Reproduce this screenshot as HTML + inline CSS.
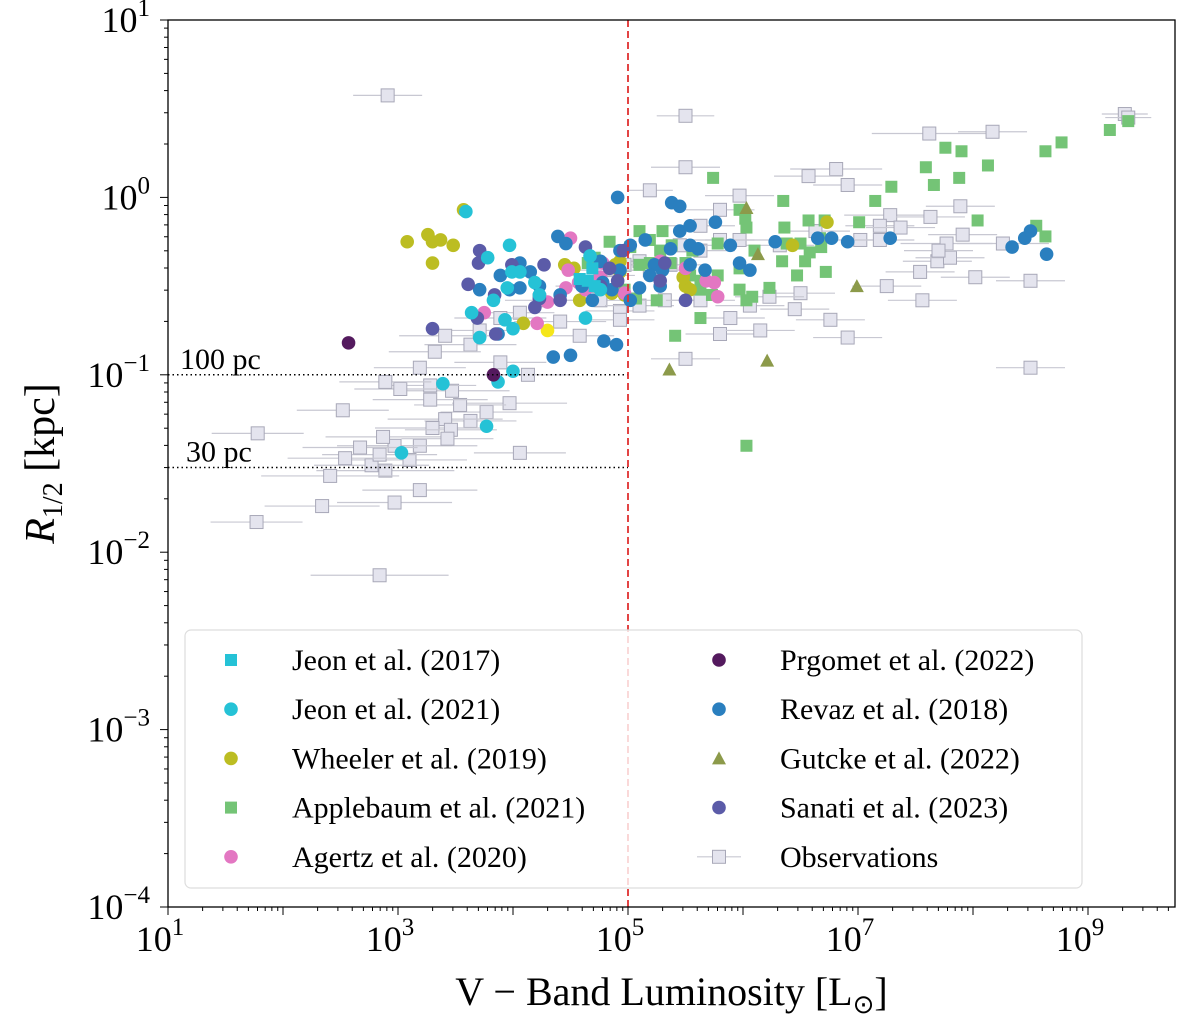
<!DOCTYPE html>
<html><head><meta charset="utf-8"><style>
body{margin:0;background:#fff;}
svg text{font-family:"Liberation Serif",serif;fill:#000;}
</style></head><body>
<svg id="chart" width="1200" height="1029" xmlns="http://www.w3.org/2000/svg"></svg>
<script>
// Data in log10 units: [log10 L_V, log10 R_half(kpc)]
const observations=[[2.91,0.575],[5.50,0.46],[5.50,0.17],[9.32,0.47],[9.35,0.45],[7.62,0.36],[8.17,0.37],[6.81,0.16],[6.57,0.12],[6.91,0.07],[5.97,0.01],[5.19,0.04],[5.80,-0.07],[5.63,-0.16],[7.89,-0.05],[7.28,-0.10],[7.63,-0.11],[7.19,-0.16],[7.02,-0.24],[7.19,-0.24],[7.37,-0.17],[6.63,-0.19],[6.32,-0.27],[5.97,-0.24],[5.80,-0.24],[5.63,-0.30],[5.45,-0.27],[5.37,-0.38],[5.19,-0.41],[5.10,-0.36],[4.97,-0.38],[4.84,-0.41],[4.76,-0.44],[4.67,-0.50],[4.76,-0.58],[4.93,-0.64],[5.10,-0.61],[5.32,-0.58],[5.63,-0.58],[5.89,-0.68],[5.80,-0.77],[6.50,-0.54],[6.45,-0.63],[6.23,-0.56],[6.06,-0.61],[6.15,-0.75],[6.76,-0.69],[6.91,-0.79],[7.25,-0.50],[7.54,-0.42],[7.77,-0.26],[7.69,-0.36],[7.80,-0.34],[7.91,-0.21],[7.70,-0.30],[8.26,-0.26],[8.02,-0.45],[8.50,-0.47],[7.56,-0.58],[8.50,-0.96],[5.50,-0.91],[4.58,-0.78],[4.41,-0.70],[4.23,-0.58],[4.06,-0.65],[3.89,-0.68],[3.71,-0.75],[3.63,-0.83],[3.41,-0.78],[3.32,-0.87],[3.19,-0.96],[3.89,-0.93],[4.13,-1.00],[3.97,-1.16],[3.77,-1.21],[3.63,-1.26],[3.54,-1.17],[3.47,-1.09],[3.28,-1.06],[3.02,-1.08],[2.89,-1.04],[3.28,-1.14],[3.41,-1.25],[3.30,-1.30],[3.19,-1.40],[3.10,-1.48],[2.97,-1.40],[2.87,-1.35],[2.89,-1.54],[2.77,-1.51],[2.84,-1.45],[2.67,-1.41],[2.54,-1.47],[2.41,-1.57],[2.34,-1.74],[2.52,-1.20],[1.78,-1.33],[2.97,-1.72],[3.19,-1.65],[1.77,-1.83],[2.84,-2.13],[3.46,-1.31],[4.06,-1.44],[3.43,-1.36],[4.93,-0.69]];
const obsErr=[0.3,0.25,0.3,0.2,0.2,0.5,0.3,0.4,0.3,0.3,0.3,0.2,0.3,0.3,0.3,0.4,0.3,0.3,0.3,0.3,0.3,0.3,0.3,0.3,0.3,0.3,0.3,0.3,0.3,0.3,0.3,0.3,0.3,0.3,0.3,0.3,0.3,0.3,0.3,0.3,0.3,0.3,0.3,0.3,0.3,0.3,0.3,0.3,0.3,0.3,0.4,0.3,0.3,0.3,0.3,0.4,0.3,0.3,0.3,0.3,0.3,0.3,0.4,0.3,0.3,0.4,0.3,0.4,0.4,0.4,0.4,0.4,0.4,0.5,0.4,0.4,0.4,0.5,0.4,0.4,0.4,0.5,0.5,0.5,0.5,0.5,0.5,0.5,0.6,0.5,0.5,0.5,0.5,0.6,0.5,0.4,0.4,0.5,0.5,0.4,0.6,0.4,0.4,0.4,0.3];
const jeon2017=[[4.58,-0.46],[4.65,-0.47],[4.71,-0.50],[4.69,-0.40]];
const jeon2021=[[3.59,-0.08],[3.78,-0.34],[3.83,-0.58],[3.95,-0.51],[3.99,-0.42],[4.06,-0.42],[4.00,-0.74],[3.97,-0.27],[3.64,-0.65],[3.87,-1.04],[3.39,-1.05],[3.77,-1.29],[3.03,-1.44],[4.00,-0.98],[3.93,-0.69],[4.23,-0.55],[4.19,-0.48],[3.71,-0.79],[4.67,-0.33],[4.76,-0.52],[4.63,-0.68]];
const wheeler=[[3.57,-0.07],[3.08,-0.25],[3.26,-0.21],[3.30,-0.25],[3.37,-0.24],[3.48,-0.27],[3.30,-0.37],[4.09,-0.71],[4.45,-0.38],[5.50,-0.50],[5.48,-0.45],[6.43,-0.27],[6.73,-0.14],[4.53,-0.40],[4.89,-0.38],[4.93,-0.42],[4.58,-0.58],[4.97,-0.55],[4.93,-0.36],[5.54,-0.52],[4.86,-0.54]];
const wheelerBright=[[4.30,-0.75]];
const applebaum=[[9.19,0.38],[9.35,0.43],[8.77,0.31],[8.63,0.26],[8.13,0.18],[7.59,0.17],[7.66,0.07],[7.88,0.11],[7.76,0.28],[7.90,0.26],[7.29,0.06],[7.15,-0.02],[7.01,-0.14],[6.57,-0.13],[5.74,0.11],[5.97,-0.07],[6.35,-0.02],[6.03,-0.17],[6.36,-0.17],[6.02,-0.12],[6.50,-0.26],[6.38,-0.26],[6.71,-0.13],[6.68,-0.28],[6.67,-0.23],[6.58,-0.31],[6.54,-0.36],[6.34,-0.36],[6.10,-0.30],[5.97,-0.40],[5.78,-0.26],[5.78,-0.44],[5.63,-0.47],[5.54,-0.44],[5.38,-0.27],[5.30,-0.19],[5.10,-0.19],[4.84,-0.25],[4.71,-0.34],[4.65,-0.37],[5.37,-0.37],[5.19,-0.37],[5.02,-0.28],[5.50,-0.37],[5.73,-0.55],[5.63,-0.68],[5.63,-0.52],[5.97,-0.52],[6.03,-0.58],[6.08,-0.56],[6.23,-0.51],[6.72,-0.42],[6.47,-0.44],[6.03,-1.40],[5.41,-0.78],[5.25,-0.58],[5.07,-0.57],[4.97,-0.52],[8.04,-0.13],[8.55,-0.16],[8.63,-0.22],[5.28,-0.30],[5.56,-0.30],[5.10,-0.38],[5.19,-0.24]];
const agertz=[[4.50,-0.23],[4.76,-0.45],[4.78,-0.37],[4.48,-0.41],[4.57,-0.48],[4.46,-0.51],[4.30,-0.59],[4.21,-0.71],[3.75,-0.65],[5.75,-0.48],[5.78,-0.56],[5.68,-0.47],[5.50,-0.40],[5.28,-0.36],[4.97,-0.54],[4.63,-0.52]];
const prgomet=[[2.57,-0.82],[3.83,-1.00]];
const revaz=[[4.91,0.00],[5.38,-0.03],[5.45,-0.05],[4.39,-0.22],[4.46,-0.26],[4.06,-0.37],[4.06,-0.51],[4.35,-0.90],[4.50,-0.89],[4.79,-0.81],[4.90,-0.83],[4.69,-0.58],[4.78,-0.48],[4.76,-0.36],[4.93,-0.30],[5.02,-0.27],[5.15,-0.24],[5.23,-0.38],[5.37,-0.29],[5.45,-0.19],[5.54,-0.27],[5.61,-0.29],[5.67,-0.41],[5.76,-0.14],[5.89,-0.27],[5.97,-0.37],[6.06,-0.41],[6.28,-0.25],[6.65,-0.23],[6.77,-0.23],[6.91,-0.25],[7.28,-0.23],[8.34,-0.28],[8.45,-0.23],[8.50,-0.19],[8.64,-0.32],[5.02,-0.58],[5.10,-0.51],[5.19,-0.44],[5.30,-0.41],[5.54,-0.38],[5.28,-0.50],[4.93,-0.41],[4.86,-0.52],[4.60,-0.50],[4.41,-0.55],[4.23,-0.50],[4.15,-0.42],[3.97,-0.52],[3.89,-0.44],[3.71,-0.52],[3.87,-0.77],[5.54,-0.16]];
const gutcke=[[6.03,-0.06],[6.13,-0.32],[6.99,-0.50],[5.36,-0.97],[6.21,-0.92]];
const sanati=[[3.71,-0.30],[3.70,-0.37],[3.61,-0.49],[3.84,-0.55],[3.99,-0.38],[3.85,-0.77],[3.69,-0.68],[3.30,-0.74],[4.63,-0.28],[4.27,-0.38],[4.23,-0.57],[4.41,-0.58],[4.91,-0.47],[4.84,-0.40],[4.96,-0.30],[5.28,-0.47],[5.32,-0.37],[5.50,-0.58],[4.19,-0.62],[4.76,-0.50]];
const xTickExp=[1,3,5,7,9];
const yTickExp=[1,0,-1,-2,-3,-4];

const NS="http://www.w3.org/2000/svg";
const svg=document.getElementById('chart');
const L=168,R=1175,T=20,B=907;
const X0=1,XPX=115,Y0=1,YPX=177.4;
function sx(v){return L+(v-X0)*XPX;}
function sy(v){return T+(Y0-v)*YPX;}
function mk(tag,attrs,parent){const e=document.createElementNS(NS,tag);for(const k in attrs)e.setAttribute(k,attrs[k]);(parent||svg).appendChild(e);return e;}

mk('rect',{x:L,y:T,width:R-L,height:B-T,fill:'#fff'});
const gPlot=mk('g',{'clip-path':'url(#clip)'});
const defs=mk('defs',{});const cp=mk('clipPath',{id:'clip'},defs);mk('rect',{x:L,y:T,width:R-L,height:B-T},cp);

observations.forEach((p,i)=>{
  const e=obsErr[i]||0.3;
  const ln=mk('line',{x1:sx(p[0]-e),x2:sx(p[0]+e),y1:sy(p[1]),y2:sy(p[1]),stroke:'#c8c8d2','stroke-width':1.2},gPlot);
  
  
  const r=mk('rect',{x:sx(p[0])-6.5,y:sy(p[1])-6.5,width:13,height:13,fill:'#e4e4ee',stroke:'#a8a8b8','stroke-width':1},gPlot);
  
  
});
function circles(arr,color,name){arr.forEach(p=>{const c=mk('circle',{cx:sx(p[0]),cy:sy(p[1]),r:6.8,fill:color},gPlot);
  
  });}
function squares(arr,color,name){arr.forEach(p=>{const c=mk('rect',{x:sx(p[0])-6,y:sy(p[1])-6,width:12,height:12,fill:color},gPlot);
  
  });}
function tris(arr,color,name){arr.forEach(p=>{const x=sx(p[0]),y=sy(p[1]);const c=mk('polygon',{points:`${x},${y-7} ${x-7},${y+6} ${x+7},${y+6}`,fill:color},gPlot);
  
  });}
squares(applebaum,'#74c476','applebaum-point');
circles(wheeler,'#bcbd22','wheeler-point');
circles(wheelerBright,'#f5e61a','wheeler-point');
circles(agertz,'#e377c2','agertz-point');
circles(revaz,'#2a7fbf','revaz-point');
circles(sanati,'#5b5ba8','sanati-point');
circles(jeon2021,'#25c2d6','jeon2021-point');
squares(jeon2017,'#25c2d6','jeon2017-point');
circles(prgomet,'#541a5e','prgomet-point');
tris(gutcke,'#8c9a4a','gutcke-point');

let e=mk('line',{x1:L,x2:sx(5),y1:sy(-1),y2:sy(-1),stroke:'#000','stroke-width':1.5,'stroke-dasharray':'1.5,3'});


e=mk('line',{x1:L,x2:sx(5),y1:sy(Math.log10(0.03)),y2:sy(Math.log10(0.03)),stroke:'#000','stroke-width':1.5,'stroke-dasharray':'1.5,3'});


e=mk('text',{x:180,y:sy(-1)-6,'font-size':30});e.textContent='100 pc';


e=mk('text',{x:186,y:sy(Math.log10(0.03))-6,'font-size':30});e.textContent='30 pc';


e=mk('line',{x1:sx(5),x2:sx(5),y1:T,y2:B,stroke:'#e03030','stroke-width':1.8,'stroke-dasharray':'7,4'});



const lg=mk('g',{});


mk('rect',{x:185,y:630,width:897,height:258,rx:6,fill:'rgba(255,255,255,0.8)',stroke:'#ddd','stroke-width':1.2},lg);
const entries=[['Jeon et al. (2017)','sq','#25c2d6'],['Jeon et al. (2021)','c','#25c2d6'],['Wheeler et al. (2019)','c','#bcbd22'],['Applebaum et al. (2021)','sq','#74c476'],['Agertz et al. (2020)','c','#e377c2'],['Prgomet et al. (2022)','c','#541a5e'],['Revaz et al. (2018)','c','#2a7fbf'],['Gutcke et al. (2022)','t','#8c9a4a'],['Sanati et al. (2023)','c','#5b5ba8'],['Observations','o','#e4e4ee']];
entries.forEach((en,i)=>{
  const col=i<5?0:1,row=i%5;const mx=col?719:231,ty=660+row*49.2,tx=col?780:292;
  const g=mk('g',{},lg);
  
  
  if(en[1]==='sq')mk('rect',{x:mx-6,y:ty-6,width:12,height:12,fill:en[2]},g);
  else if(en[1]==='c')mk('circle',{cx:mx,cy:ty,r:6.8,fill:en[2]},g);
  else if(en[1]==='t')mk('polygon',{points:`${mx},${ty-7} ${mx-7},${ty+6} ${mx+7},${ty+6}`,fill:en[2]},g);
  else{mk('line',{x1:mx-22,x2:mx+22,y1:ty,y2:ty,stroke:'#c8c8d2','stroke-width':1.2},g);mk('rect',{x:mx-6.5,y:ty-6.5,width:13,height:13,fill:en[2],stroke:'#a8a8b8'},g);}
  const t=mk('text',{x:tx,y:ty+10,'font-size':30},g);t.textContent=en[0];
});

e=mk('rect',{x:L,y:T,width:R-L,height:B-T,fill:'none',stroke:'#000','stroke-width':1.3});



const gx=mk('g',{});
for(let d=1;d<10;d++){for(let m=1;m<10;m++){const v=d+Math.log10(m);const x=sx(v);if(x>R)continue;mk('line',{x1:x,x2:x,y1:B,y2:B+(m===1?8:4),stroke:'#000','stroke-width':1},gx);}}
xTickExp.forEach(k=>{const t=mk('text',{x:sx(k)-8,y:B+44,'font-size':36,'text-anchor':'middle'},gx);t.innerHTML=`10<tspan dy="-16" font-size="25">${k}</tspan>`;});
const gy=mk('g',{});
for(let d=-4;d<1;d++){for(let m=1;m<10;m++){const v=d+Math.log10(m);mk('line',{x1:L,x2:L-(m===1?8:4),y1:sy(v),y2:sy(v),stroke:'#000','stroke-width':1},gy);}}
mk('line',{x1:L,x2:L-8,y1:sy(1),y2:sy(1),stroke:'#000'},gy);
yTickExp.forEach(k=>{const t=mk('text',{x:150,y:sy(k)+12,'font-size':36,'text-anchor':'end'},gy);t.innerHTML=`10<tspan dy="-16" font-size="25">${k<0?'−'+(-k):k}</tspan>`;});

e=mk('text',{x:(L+R)/2,y:1005,'font-size':40,'text-anchor':'middle'});
e.innerHTML='V − Band Luminosity [L<tspan font-size="26" dy="8">⊙</tspan><tspan dy="-8">]</tspan>';


e=mk('text',{x:0,y:0,'font-size':42,'text-anchor':'middle',transform:`translate(54,${(T+B)/2}) rotate(-90)`});
e.innerHTML='<tspan font-style="italic">R</tspan><tspan font-size="28" dy="8">1/2</tspan><tspan dy="-8"> [kpc]</tspan>';


</script>
</body></html>
